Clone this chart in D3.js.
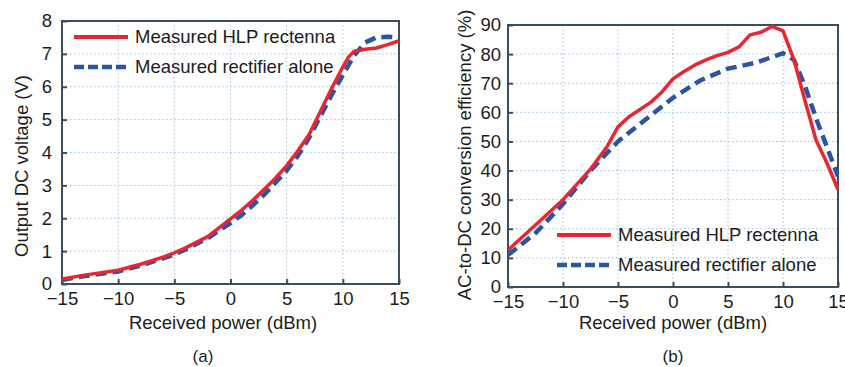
<!DOCTYPE html>
<html><head><meta charset="utf-8">
<script src="https://cdn.jsdelivr.net/npm/d3@7"></script>
<style>
body{margin:0;background:#fff;}
svg{display:block;font-family:"Liberation Sans",Arial,sans-serif;}
</style></head>
<body><svg id="c" width="845" height="367"></svg>
<script>
// ---- data (a) ----
const xA_hlp = [-15,-13,-10,-8,-6,-5,-4,-2,0,1,2,3,4,5,6,7,8,9,10,10.5,11,12,13,14,15];
const vA_hlp = [0.15,0.27,0.42,0.6,0.82,0.95,1.1,1.45,1.98,2.25,2.55,2.88,3.22,3.6,4.05,4.55,5.25,5.95,6.6,6.9,7.08,7.14,7.18,7.28,7.4];
const xA_rect = [-15,-13,-10,-8,-6,-5,-4,-2,0,1,2,3,4,5,6,7,8,9,10,11,12,13,14,15];
const vA_rect = [0.12,0.24,0.38,0.56,0.78,0.9,1.05,1.4,1.85,2.1,2.4,2.72,3.08,3.45,3.9,4.45,5.1,5.75,6.35,6.95,7.35,7.5,7.52,7.5];
// ---- data (b) ----
const xB_hlp = [-15,-12.5,-10,-7.5,-6,-5,-4,-2,-1,0,1,2,3,4,5,6,7,8,9,10,11,12,13,14,15];
const vB_hlp = [12.7,21.3,30,40.5,48.2,55,58.5,63.5,67,71.5,74,76.3,78,79.5,80.6,82.5,86.6,87.5,89.5,88,78,64,50.5,42.5,33.5];
const xB_rect = [-15,-12.5,-10,-7.5,-5,-2.5,0,2.5,5,7.5,10,11,12,13,14,15];
const vB_rect = [11,18.5,28.5,40,50,57.5,65,71,75,77,80.3,78,69,58,48,38];

const xTicks = [-15,-10,-5,0,5,10,15];
const yTicksA = [0,1,2,3,4,5,6,7,8];
const yTicksB = [0,10,20,30,40,50,60,70,80,90];
const legendLabels = ["Measured HLP rectenna","Measured rectifier alone"];
const titlesA = {x:"Received power (dBm)", y:"Output DC voltage (V)", tag:"(a)"};
const titlesB = {x:"Received power (dBm)", y:"AC-to-DC conversion efficiency (%)", tag:"(b)"};

const RED = "#e8262f", BLUE = "#2b55a3", FRAME = "#3b4d5e", GRID = "#9fbfdc", TXT = "#1c1c1c";
const FS = "18.5px";
const svg = d3.select("#c");
const fmt = d => d < 0 ? "\u2212" + Math.abs(d) : String(d);

function panel(cfg){
  const g = svg.append("g");
  const x = d3.scaleLinear().domain([-15,15]).range([cfg.l, cfg.r]);
  const y = d3.scaleLinear().domain(cfg.yDom).range([cfg.b, cfg.t]);
  // grid
  g.append("g").selectAll("line").data(xTicks.slice(1,-1)).join("line")
    .attr("x1",d=>x(d)).attr("x2",d=>x(d)).attr("y1",cfg.t).attr("y2",cfg.b)
    .attr("stroke",GRID).attr("stroke-width",1).attr("stroke-dasharray","1.5,2.5");
  g.append("g").selectAll("line").data(cfg.yTicks.slice(1,-1)).join("line")
    .attr("y1",d=>y(d)).attr("y2",d=>y(d)).attr("x1",cfg.l).attr("x2",cfg.r)
    .attr("stroke",GRID).attr("stroke-width",1).attr("stroke-dasharray","1.5,2.5");
  // axes with inward ticks
  const ax = g.append("g").attr("transform",`translate(0,${cfg.b})`)
    .call(d3.axisBottom(x).tickValues(xTicks).tickSize(-5).tickPadding(8).tickFormat(fmt));
  const ay = g.append("g").attr("transform",`translate(${cfg.l},0)`)
    .call(d3.axisLeft(y).tickValues(cfg.yTicks).tickSize(-5).tickPadding(cfg.yPad).tickFormat(fmt));
  [ax,ay].forEach(a=>{
    a.select(".domain").remove();
    a.selectAll("line").attr("stroke",FRAME).attr("stroke-width",2);
    a.selectAll("text").attr("font-size",FS).attr("fill",TXT).attr("font-family","Liberation Sans, Arial, sans-serif");
  });
  // frame
  g.append("rect").attr("x",cfg.l).attr("y",cfg.t).attr("width",cfg.r-cfg.l).attr("height",cfg.b-cfg.t)
    .attr("fill","none").attr("stroke",FRAME).attr("stroke-width",2);
  // lines
  const clip = "clip"+cfg.tag.replace(/\W/g,"");
  svg.append("clipPath").attr("id",clip).append("rect")
    .attr("x",cfg.l).attr("y",cfg.t-3).attr("width",cfg.r-cfg.l+1).attr("height",cfg.b-cfg.t+3);
  const line = d3.line().x(d=>x(d[0])).y(d=>y(d[1]));
  const ln = g.append("g").attr("clip-path",`url(#${clip})`);
  ln.append("path").datum(d3.zip(cfg.xr, cfg.vr)).attr("d",line)
    .attr("fill","none").attr("stroke",BLUE).attr("stroke-width",4.5).attr("stroke-dasharray","11,6");
  ln.append("path").datum(d3.zip(cfg.xh, cfg.vh)).attr("d",line)
    .attr("fill","none").attr("stroke",RED).attr("stroke-width",3.5).attr("stroke-linejoin","round");
  // legend
  const lg = g.append("g");
  lg.append("line").attr("x1",cfg.lx).attr("x2",cfg.lx+54).attr("y1",cfg.ly).attr("y2",cfg.ly)
    .attr("stroke",RED).attr("stroke-width",4);
  lg.append("line").attr("x1",cfg.lx).attr("x2",cfg.lx+54).attr("y1",cfg.ly+30).attr("y2",cfg.ly+30)
    .attr("stroke",BLUE).attr("stroke-width",4.5).attr("stroke-dasharray","10,4");
  lg.selectAll("text").data(legendLabels).join("text")
    .attr("x",cfg.lx+61).attr("y",(d,i)=>cfg.ly+30*i).attr("dy","0.35em")
    .attr("font-size",FS).attr("fill",TXT).text(d=>d);
  // titles
  g.append("text").attr("x",cfg.xtx).attr("y",329).attr("text-anchor","middle")
    .attr("font-size",FS).attr("fill",TXT).text(cfg.titles.x);
  g.append("text").attr("transform",`translate(${cfg.ytx},${cfg.yty}) rotate(-90)`)
    .attr("text-anchor","middle").attr("dy","0.35em")
    .attr("font-size",FS).attr("fill",TXT).text(cfg.titles.y);
  g.append("text").attr("x",cfg.tagx).attr("y",362).attr("text-anchor","middle")
    .attr("font-size","17px").attr("fill",TXT).text(cfg.titles.tag);
}

panel({l:62,r:399,t:21,b:284,yDom:[0,8],yTicks:yTicksA,yPad:10,
  xh:xA_hlp,vh:vA_hlp,xr:xA_rect,vr:vA_rect,lx:74,ly:37,
  xtx:223,ytx:22,yty:166,tagx:203,titles:titlesA,tag:"a"});
panel({l:508,r:838,t:25,b:287,yDom:[0,90],yTicks:yTicksB,yPad:7,
  xh:xB_hlp,vh:vB_hlp,xr:xB_rect,vr:vB_rect,lx:557,ly:235,
  xtx:673,ytx:465,yty:155,tagx:673,titles:titlesB,tag:"b"});
</script></body></html>
